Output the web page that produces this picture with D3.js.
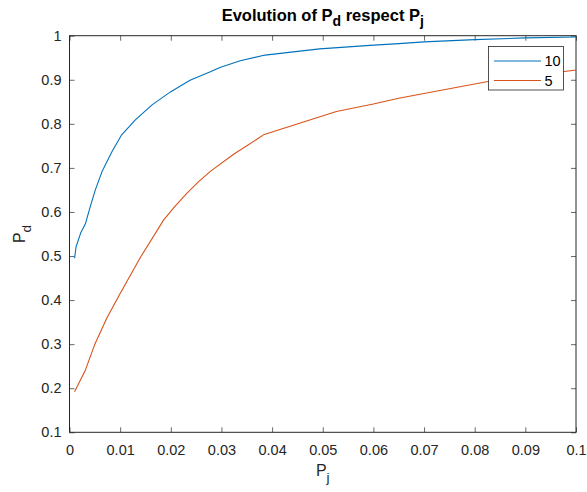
<!DOCTYPE html>
<html><head><meta charset="utf-8">
<script src="https://cdn.jsdelivr.net/npm/d3@7"></script>
<style>body{margin:0;background:#fff;}svg{display:block;font-family:"Liberation Sans",Arial,sans-serif;}</style>
</head><body>
<svg id="c" width="587" height="492"></svg>
<script>
const seriesNames = ["10", "5"];
const seriesColors = ["#0072BD", "#D95319"];
const x10 = [0.001, 0.0013, 0.0022, 0.0031, 0.0041, 0.0051, 0.0064, 0.0084, 0.0103, 0.013, 0.0163, 0.02, 0.0238, 0.0278, 0.0297, 0.0337, 0.0386, 0.0494, 0.0593, 0.065, 0.07, 0.08, 0.09, 0.1];
const y10 = [0.495, 0.521, 0.552, 0.572, 0.612, 0.650, 0.691, 0.737, 0.775, 0.809, 0.843, 0.873, 0.899, 0.918, 0.928, 0.943, 0.956, 0.970, 0.978, 0.982, 0.986, 0.991, 0.995, 0.997];
const x5 = [0.001, 0.0031, 0.005, 0.0074, 0.01, 0.0139, 0.0186, 0.0209, 0.0232, 0.0255, 0.0278, 0.0324, 0.037, 0.0383, 0.0527, 0.06, 0.065, 0.0826, 0.1];
const y5 = [0.192, 0.240, 0.300, 0.360, 0.415, 0.495, 0.582, 0.614, 0.643, 0.669, 0.692, 0.731, 0.765, 0.775, 0.828, 0.845, 0.858, 0.896, 0.922];
const xTicks = [0, 0.01, 0.02, 0.03, 0.04, 0.05, 0.06, 0.07, 0.08, 0.09, 0.1];
const yTicks = [0.1, 0.2, 0.3, 0.4, 0.5, 0.6, 0.7, 0.8, 0.9, 1];

const svg = d3.select("#c");
const L = 69.5, R = 576, T = 35.7, B = 432.3;
const x = d3.scaleLinear().domain([0, 0.1]).range([L, R]);
const y = d3.scaleLinear().domain([0.1, 1]).range([B, T]);
const axCol = "#262626";
const fmt = d => d3.format("")(+d.toFixed(2));

function styleAxis(g){
  g.selectAll(".domain").remove();
  g.selectAll("text").attr("fill", axCol).style("font-size", "14.5px");
  g.selectAll("line").attr("stroke", axCol).attr("stroke-width", 0.7);
}
svg.append("g").attr("transform", `translate(0,${B})`)
  .call(d3.axisBottom(x).tickValues(xTicks).tickSize(-5).tickPadding(12).tickFormat(fmt)).call(styleAxis);
svg.append("g").attr("transform", `translate(0,${T})`)
  .call(d3.axisTop(x).tickValues(xTicks).tickSize(-5).tickFormat("")).call(styleAxis);
svg.append("g").attr("transform", `translate(${L},0)`)
  .call(d3.axisLeft(y).tickValues(yTicks).tickSize(-5).tickPadding(8).tickFormat(fmt)).call(styleAxis);
svg.append("g").attr("transform", `translate(${R},0)`)
  .call(d3.axisRight(y).tickValues(yTicks).tickSize(-5).tickFormat("")).call(styleAxis);
svg.append("rect").attr("x", L).attr("y", T).attr("width", R - L).attr("height", B - T)
  .attr("fill", "none").attr("stroke", axCol).attr("stroke-width", 1);

const data = [x10.map((v, i) => [v, y10[i]]), x5.map((v, i) => [v, y5[i]])];
const line = d3.line().x(d => x(d[0])).y(d => y(d[1]));
data.forEach((d, i) => {
  svg.append("path").attr("d", line(d)).attr("fill", "none")
    .attr("stroke", seriesColors[i]).attr("stroke-width", 1.1).attr("stroke-linejoin", "round");
});

// legend
const lg = svg.append("g");
lg.append("rect").attr("x", 488.5).attr("y", 46.5).attr("width", 75).attr("height", 43.5)
  .attr("fill", "#fff").attr("stroke", axCol).attr("stroke-width", 0.8);
seriesNames.forEach((n, i) => {
  const cy = 61 + i * 19.5;
  lg.append("line").attr("x1", 494).attr("x2", 541).attr("y1", cy).attr("y2", cy)
    .attr("stroke", seriesColors[i]).attr("stroke-width", 1.1);
  lg.append("text").attr("x", 544.5).attr("y", cy + 5).attr("fill", "#000")
    .style("font-size", "14.5px").text(n);
});

// title
const t = svg.append("text").attr("x", (L + R) / 2).attr("y", 20.5).attr("text-anchor", "middle")
  .attr("fill", "#000").style("font-size", "16.5px").style("font-weight", "bold");
t.append("tspan").text("Evolution of P");
t.append("tspan").attr("dy", 5).style("font-size", "14px").text("d");
t.append("tspan").attr("dy", -5).text(" respect P");
t.append("tspan").attr("dy", 5).style("font-size", "14px").text("j");

// x label
const xl = svg.append("text").attr("x", (L + R) / 2).attr("y", 476).attr("text-anchor", "middle")
  .attr("fill", axCol).style("font-size", "16px");
xl.append("tspan").text("P");
xl.append("tspan").attr("dy", 6).style("font-size", "13.5px").text("j");

// y label
const yl = svg.append("text").attr("transform", `translate(25,${(T + B) / 2}) rotate(-90)`)
  .attr("text-anchor", "middle").attr("fill", axCol).style("font-size", "16px");
yl.append("tspan").text("P");
yl.append("tspan").attr("dy", 6).style("font-size", "13.5px").text("d");
</script>
</body></html>
